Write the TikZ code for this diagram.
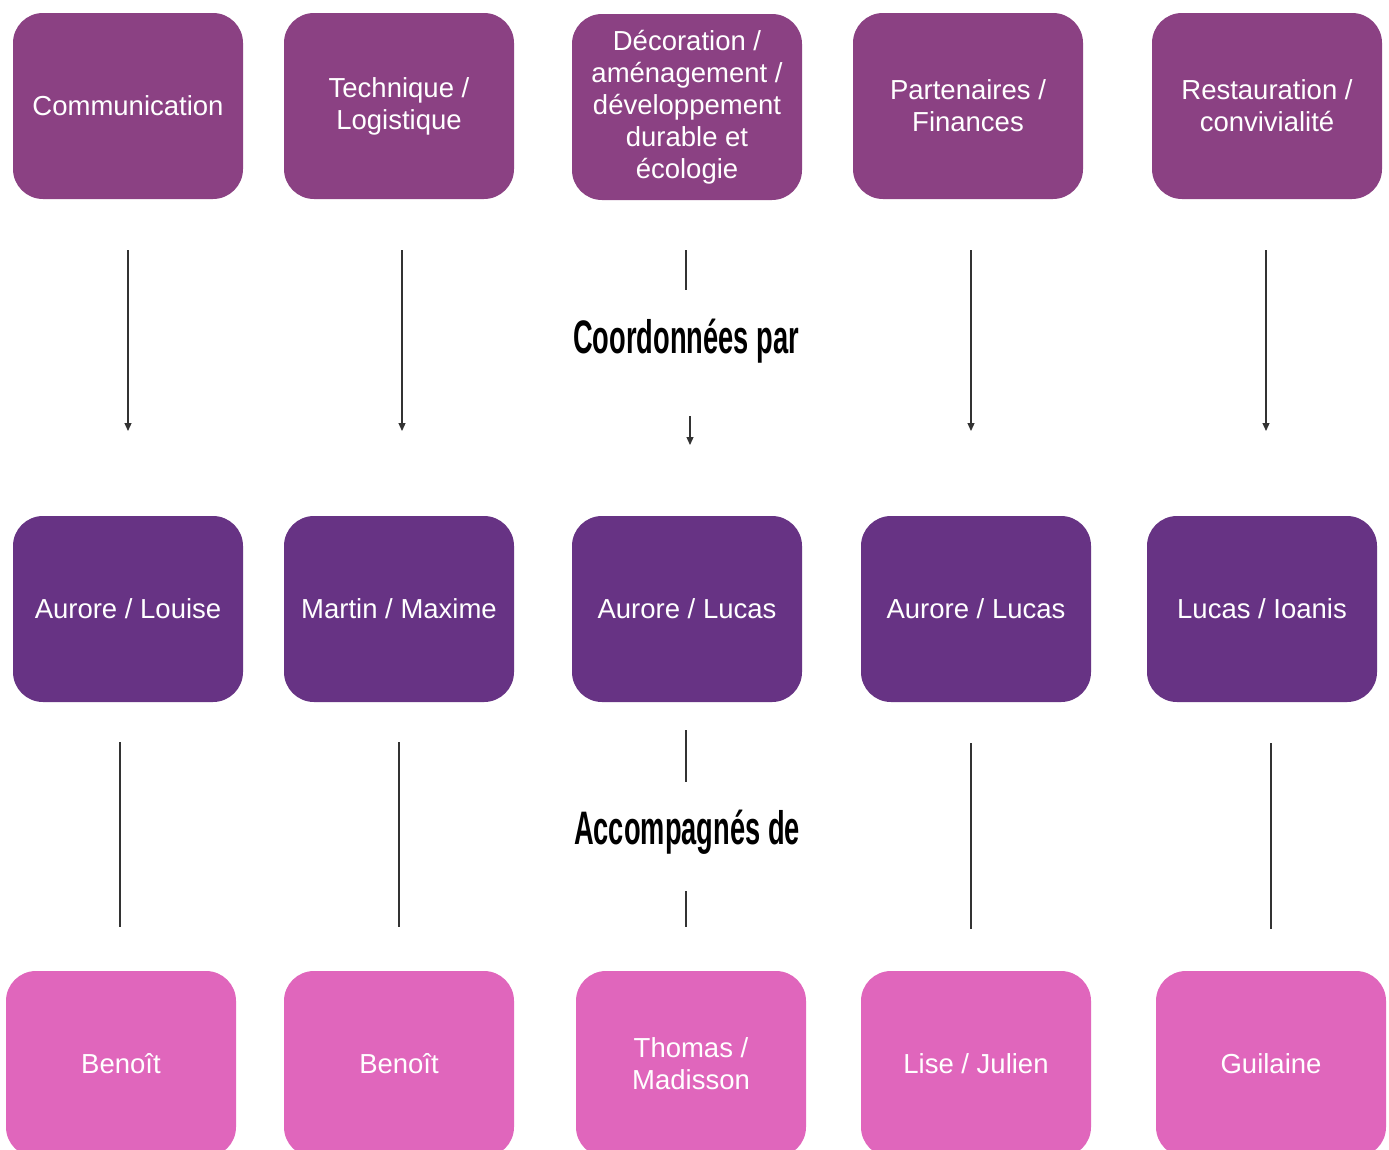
\documentclass[tikz,border=0pt]{standalone}
\usepackage{fontspec}
\setmainfont{Liberation Sans}
\usepackage{graphicx}
\usetikzlibrary{arrows.meta}
\definecolor{topc}{HTML}{8B4183}
\definecolor{midc}{HTML}{673384}
\definecolor{botc}{HTML}{E066BC}
\definecolor{linec}{HTML}{333333}
\tikzset{
  box/.style={rounded corners=30, minimum width=230, minimum height=186, inner sep=0,
    text=white, align=center, font=\fontsize{27.5}{32}\selectfont},
  topbox/.style={box, fill=topc},
  midbox/.style={box, fill=midc},
  botbox/.style={box, fill=botc},
  arr/.style={draw=linec, line width=1.2, -{Triangle[length=8,width=7]}},
  ln/.style={draw=linec, line width=1.2},
  lbl/.style={inner sep=0, font=\fontsize{47}{54}\selectfont\bfseries}
}
\begin{document}
\begin{tikzpicture}[x=1pt,y=-1pt]
\clip (0,0) rectangle (1389,1149);
\fill[white] (0,0) rectangle (1389,1149);
% top row
\node[topbox] (t1) at (128,106) {Communication};
\node[topbox] (t2) at (399,106) {Technique /\\Logistique};
\node[topbox] (t3) at (687,107) {Décoration /\\aménagement /\\développement\\durable et\\écologie};
\node[topbox] (t4) at (968,106) {Partenaires /\\Finances};
\node[topbox] (t5) at (1267,106) {Restauration /\\convivialité};
% middle row
\node[midbox] (m1) at (128,609) {Aurore / Louise};
\node[midbox] (m2) at (399,609) {Martin / Maxime};
\node[midbox] (m3) at (687,609) {Aurore / Lucas};
\node[midbox] (m4) at (976,609) {Aurore / Lucas};
\node[midbox] (m5) at (1262,609) {Lucas / Ioanis};
% bottom row
\node[botbox] (b1) at (121,1064) {Benoît};
\node[botbox] (b2) at (399,1064) {Benoît};
\node[botbox] (b3) at (691,1064) {Thomas /\\Madisson};
\node[botbox] (b4) at (976,1064) {Lise / Julien};
\node[botbox] (b5) at (1271,1064) {Guilaine};
% labels
\node[lbl] (l1) at (686,341) {\scalebox{0.58}[1]{Coordonnées par}};
\node[lbl] (l2) at (687,832) {\scalebox{0.58}[1]{Accompagnés de}};
% arrow coordinates, top to middle
\coordinate (a1s) at (128,250); \coordinate (a1e) at (128,431);
\coordinate (a2s) at (402,250); \coordinate (a2e) at (402,431);
\coordinate (a3s) at (686,250); \coordinate (a3m) at (686,290);
\coordinate (a3n) at (690,416); \coordinate (a3e) at (690,445);
\coordinate (a4s) at (971,250); \coordinate (a4e) at (971,431);
\coordinate (a5s) at (1266,250); \coordinate (a5e) at (1266,431);
\draw[arr] (a1s) -- (a1e);
\draw[arr] (a2s) -- (a2e);
\draw[ln] (a3s) -- (a3m);
\draw[arr] (a3n) -- (a3e);
\draw[arr] (a4s) -- (a4e);
\draw[arr] (a5s) -- (a5e);
% lines, middle to bottom
\coordinate (c1s) at (120,742); \coordinate (c1e) at (120,927);
\coordinate (c2s) at (399,742); \coordinate (c2e) at (399,927);
\coordinate (c3s) at (686,730); \coordinate (c3m) at (686,782);
\coordinate (c3n) at (686,891); \coordinate (c3e) at (686,927);
\coordinate (c4s) at (971,743); \coordinate (c4e) at (971,929);
\coordinate (c5s) at (1271,743); \coordinate (c5e) at (1271,929);
\draw[ln] (c1s) -- (c1e);
\draw[ln] (c2s) -- (c2e);
\draw[ln] (c3s) -- (c3m);
\draw[ln] (c3n) -- (c3e);
\draw[ln] (c4s) -- (c4e);
\draw[ln] (c5s) -- (c5e);
\end{tikzpicture}
\end{document}
